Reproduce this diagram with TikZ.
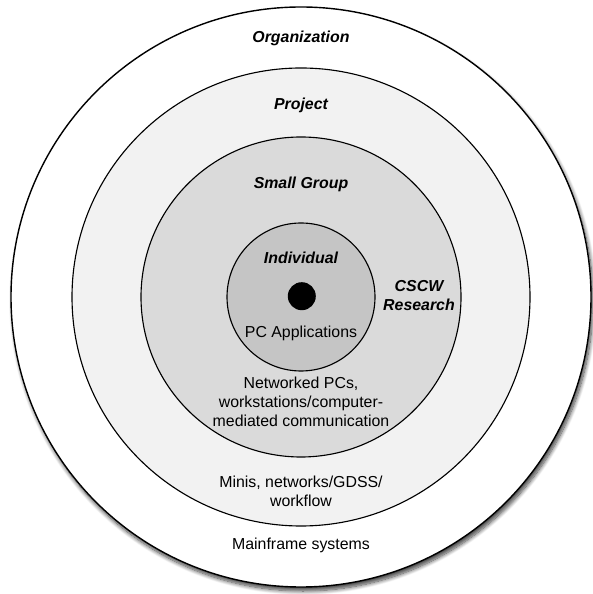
\documentclass[tikz,border=0pt]{standalone}
\usepackage{xcolor}
\usepackage{fontspec}
\setmainfont{Liberation Sans}
\usepackage{tikz}
\usetikzlibrary{shadows.blur}
\definecolor{projectgray}{RGB}{242,242,242}
\definecolor{groupgray}{RGB}{218,218,218}
\definecolor{individualgray}{RGB}{197,197,197}

\begin{document}
\begin{tikzpicture}[
  ring/.style={draw=black,line width=0.8pt},
  levellabel/.style={font=\fontsize{11.3}{13.5}\selectfont\bfseries\itshape,align=center},
  techlabel/.style={font=\fontsize{11.3}{13.5}\selectfont,align=center}
]
\useasboundingbox (-7.525,-7.425) rectangle (7.275,7.425);
% Draw the rings from outside in
\fill[white,blur shadow={shadow xshift=0.05cm,shadow yshift=-0.1cm,shadow opacity=75,shadow blur steps=10,shadow blur radius=0.1cm}] (0,0) circle (7.25);
\draw[ring,line width=1pt] (0,0) circle (7.25);
\draw[ring,fill=projectgray] (0,0) circle (5.725);
\draw[ring,fill=groupgray] (0,0) circle (4.0);
\draw[ring,fill=individualgray] (0,0) circle (1.85);
% Draw the dot at the centre
\fill[black] (0.02,0.02) circle (0.35);
% Level labels
\node[levellabel] (organization) at (0,6.475) {Organization};
\node[levellabel] (project) at (0,4.8) {Project};
\node[levellabel] (smallgroup) at (0,2.825) {Small Group};
\node[levellabel] (individual) at (0,0.975) {Individual};
\node[levellabel] (cscw) at (2.95,0.025) {CSCW\\Research};
% Technology labels
\node[techlabel] (pcapps) at (0,-0.9) {PC Applications};
\node[techlabel] (networked) at (0,-2.625) {Networked PCs,\\workstations/computer-\\mediated communication};
\node[techlabel] (minis) at (0,-4.86) {Minis, networks/GDSS/\\workflow};
\node[techlabel] (mainframe) at (0,-6.2) {Mainframe systems};
\end{tikzpicture}
\end{document}
